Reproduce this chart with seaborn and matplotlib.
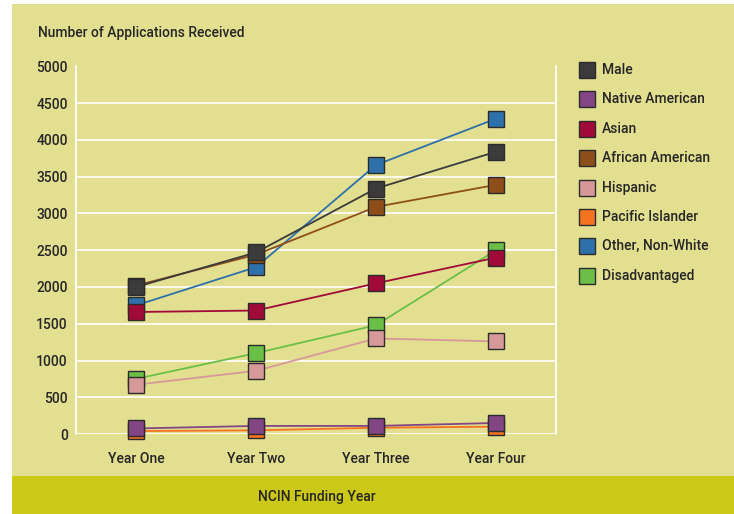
import matplotlib
matplotlib.use("Agg")
import matplotlib.pyplot as plt
from matplotlib.patches import Rectangle
import seaborn as sns
import pandas as pd

# Applications received per NCIN funding year
years = ["Year One", "Year Two", "Year Three", "Year Four"]
groups = ["Male", "Native American", "Asian", "African American", "Hispanic",
          "Pacific Islander", "Other, Non-White", "Disadvantaged"]
male = [2000, 2470, 3340, 3840]
native_american = [75, 110, 110, 150]
asian = [1660, 1680, 2050, 2400]
african_american = [2020, 2440, 3090, 3390]
hispanic = [670, 860, 1300, 1260]
pacific_islander = [40, 50, 85, 100]
other_non_white = [1750, 2270, 3660, 4290]
disadvantaged = [750, 1100, 1480, 2500]
y_ticks = [0, 500, 1000, 1500, 2000, 2500, 3000, 3500, 4000, 4500, 5000]

series = [male, native_american, asian, african_american, hispanic,
          pacific_islander, other_non_white, disadvantaged]
colors = ["#3b3b3b", "#824684", "#a10a38", "#8e4e19", "#d69898",
          "#f47321", "#2e70aa", "#6bbf47"]

rows = []
for g, vals in zip(groups, series):
    for i, v in enumerate(vals):
        rows.append({"group": g, "pos": i, "year": years[i], "value": v})
df = pd.DataFrame(rows)

sns.set_theme(style="white")
FONT = ["Roboto", "DejaVu Sans"]
plt.rcParams["font.family"] = FONT
TEXT = "#262626"
BG = "#e3df90"
BAND = "#cbc817"
FS = 10
FW = "medium"

W, H = 734, 514
fig = plt.figure(figsize=(W / 100, H / 100), dpi=100)
fig.patch.set_facecolor("white")

# page backgrounds
fig.add_artist(Rectangle((12 / W, 0), 1 - 12 / W, 1 - 4 / H,
                         transform=fig.transFigure, facecolor=BG,
                         edgecolor="none", zorder=-10))
fig.add_artist(Rectangle((12 / W, 0), 1 - 12 / W, (H - 476) / H,
                         transform=fig.transFigure, facecolor=BAND,
                         edgecolor="none", zorder=-9))

left, right, top, bottom = 76, 556, 66.5, 434
ax = fig.add_axes([left / W, 1 - bottom / H, (right - left) / W, (bottom - top) / H])
ax.set_facecolor("none")

# draw later legend entries first so earlier ones sit on top
for idx in reversed(range(len(groups))):
    g = groups[idx]
    sub = df[df["group"] == g]
    sns.lineplot(data=sub, x="pos", y="value", ax=ax, color=colors[idx],
                 linewidth=1.3, marker="s", markersize=11.5,
                 markeredgecolor="#2b2b2b", markeredgewidth=1.0,
                 clip_on=False, legend=False, zorder=3 + (len(groups) - idx))

ax.set_xlim(-0.5, 3.5)
ax.set_ylim(0, 5000)
ax.set_yticks(y_ticks)
ax.set_yticklabels([str(t) for t in y_ticks])
ax.set_xticks(range(len(years)))
ax.set_xticklabels(years)
ax.set_xlabel("")
ax.set_ylabel("")
ax.grid(axis="y", color="white", linewidth=1.2)
ax.grid(axis="x", visible=False)
ax.set_axisbelow(True)
for s in ["top", "bottom"]:
    ax.spines[s].set_visible(False)
for s in ["left", "right"]:
    ax.spines[s].set_visible(True)
    ax.spines[s].set_color("white")
    ax.spines[s].set_linewidth(1.2)
ax.tick_params(axis="both", length=0, labelsize=FS, colors=TEXT)
ax.tick_params(axis="y", pad=6)
ax.tick_params(axis="x", pad=13)
for lbl in ax.get_xticklabels() + ax.get_yticklabels():
    lbl.set_fontweight(FW)

fig.text(38 / W, 1 - 33 / H, "Number of Applications Received", fontsize=FS,
         fontweight=FW, color=TEXT, va="center", ha="left")
fig.text(317 / W, 1 - 497 / H, "NCIN Funding Year", fontsize=FS,
         fontweight=FW, color=TEXT, va="center", ha="center")

# legend
y0, dy = 70, 29.4
for i, (g, c) in enumerate(zip(groups, colors)):
    yc = y0 + i * dy
    fig.add_artist(Rectangle((579 / W, 1 - (yc + 8) / H), 16 / W, 16 / H,
                             transform=fig.transFigure, facecolor=c,
                             edgecolor="#2b2b2b", linewidth=1.0))
    fig.text(602 / W, 1 - yc / H, g, fontsize=FS, fontweight=FW,
             color=TEXT, va="center", ha="left")

fig.savefig("out.png", dpi=100, facecolor=fig.get_facecolor())
